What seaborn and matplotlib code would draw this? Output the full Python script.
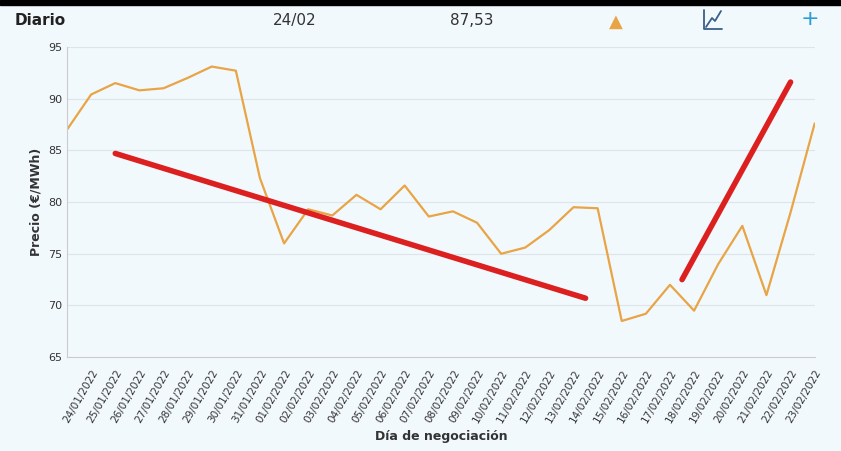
import matplotlib
matplotlib.use("Agg")
import matplotlib.pyplot as plt
from matplotlib.lines import Line2D
import seaborn as sns
import pandas as pd
import numpy as np

labels = ["23/01/2022"] + ["%02d/01/2022" % d for d in range(24, 32)] + ["%02d/02/2022" % d for d in range(1, 24)]
prices = [87.0, 90.4, 91.5, 90.8, 91.0, 92.0, 93.1, 92.7, 82.3, 76.0, 79.3, 78.7, 80.7, 79.3, 81.6,
          78.6, 79.1, 78.0, 75.0, 75.6, 77.3, 79.5, 79.4, 68.5, 69.2, 72.0, 69.5, 74.0, 77.7, 71.0, 79.0, 87.6]
trend1_x = [1, 20.5]; trend1_y = [84.7, 70.7]
trend2_x = [24.5, 29]; trend2_y = [72.5, 91.6]

bg = "#f2f9fd"
sns.set_style("whitegrid")
fig = plt.figure(figsize=(8.41, 4.51), dpi=100, facecolor=bg)
ax = fig.add_axes([0.0797, 0.208, 0.889, 0.688])
ax.set_facecolor(bg)
df = pd.DataFrame({"x": np.arange(len(prices)) - 1, "y": prices})
sns.lineplot(data=df, x="x", y="y", color="#e8a445", lw=1.6, ax=ax)
ax.plot(trend1_x, trend1_y, color="#dc2020", lw=4, solid_capstyle="round")
ax.plot(trend2_x, trend2_y, color="#dc2020", lw=4, solid_capstyle="round")
ax.set_xlim(-1, 30)
ax.set_ylim(65, 95)
ax.set_yticks([65, 70, 75, 80, 85, 90, 95])
ax.set_xticks(range(0, 31))
ax.set_xticklabels(labels[1:], rotation=60, ha="right", rotation_mode="anchor", fontsize=7.5, color="#333")
ax.tick_params(axis="y", labelsize=8, colors="#333", length=0)
ax.tick_params(axis="x", length=4, color="#ccc")
ax.grid(axis="x", visible=False)
ax.grid(axis="y", color="#dde4ea", lw=0.8)
for s in ["top", "right"]:
    ax.spines[s].set_visible(False)
ax.spines["left"].set_color("#ccc")
ax.spines["bottom"].set_color("#ccc")
ax.set_xlabel("Día de negociación", fontsize=9, fontweight="bold", color="#333")
ax.set_ylabel("Precio (€/MWh)", fontsize=9, fontweight="bold", color="#333")

fig.patches.append(plt.Rectangle((0, 0.99), 1, 0.01, transform=fig.transFigure, color="black"))
fig.text(0.017, 0.955, "Diario", fontsize=11, fontweight="bold", va="center", color="#222")
fig.text(0.325, 0.955, "24/02", fontsize=11, va="center", color="#333")
fig.text(0.535, 0.955, "87,53", fontsize=11, va="center", color="#333")
fig.text(0.732, 0.952, "▲", fontsize=13, va="center", ha="center", color="#e8a445")
ic = "#3a5f8a"
W, H = 841, 451
def L(xs, ys, lw=1.3):
    fig.add_artist(Line2D([x / W for x in xs], [1 - y / H for y in ys], color=ic, lw=lw))
L([704, 704, 722], [10, 29, 29])
L([706, 712, 715, 721], [27, 18, 21, 11])
fig.text(0.963, 0.958, "+", fontsize=16, va="center", ha="center", color="#2a9fd6")
fig.savefig("out.png", dpi=100, facecolor=bg)
